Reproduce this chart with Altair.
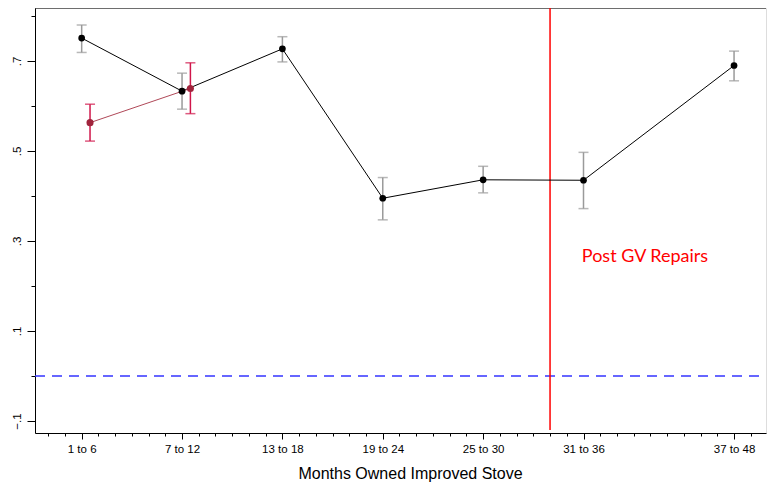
import altair as alt
import pandas as pd

# ---- data ----
labels = ["1 to 6", "7 to 12", "13 to 18", "19 to 24", "25 to 30", "31 to 36", "37 to 48"]
months_black = [3.5, 9.5, 15.5, 21.5, 27.5, 33.5, 42.5]
est_black = [0.751, 0.633, 0.727, 0.395, 0.436, 0.435, 0.690]
lo_black = [0.719, 0.593, 0.698, 0.347, 0.407, 0.372, 0.656]
hi_black = [0.780, 0.673, 0.754, 0.441, 0.466, 0.497, 0.722]

months_red = [4.0, 10.0]
est_red = [0.563, 0.639]
lo_red = [0.522, 0.583]
hi_red = [0.604, 0.696]

repair_month = 31.5
note_text = "Post GV Repairs"
note_month = 33.4
note_value = 0.264

xmin, xmax = 0.71, 44.41
ymin, ymax = -0.1267, 0.8178

black = pd.DataFrame({"m": months_black, "est": est_black, "lo": lo_black, "hi": hi_black})
red = pd.DataFrame({"m": months_red, "est": est_red, "lo": lo_red, "hi": hi_red})

W, H = 731, 425

major_x = months_black
x_ticks = [m + 0.5 for m in range(1, 44)]
label_expr = "".join(f"datum.value == {m} ? '{l}' : " for m, l in zip(months_black, labels)) + "''"
major_x_test = " || ".join(f"datum.value == {m}" for m in major_x)

y_ticks = [-0.1, 0, 0.1, 0.2, 0.3, 0.4, 0.5, 0.6, 0.7, 0.8]
y_major = [-0.1, 0.1, 0.3, 0.5, 0.7]
major_y_test = " || ".join(f"datum.value == {v}" for v in y_major)

xscale = alt.Scale(domain=[xmin, xmax], nice=False, zero=False)
yscale = alt.Scale(domain=[ymin, ymax], nice=False, zero=False)

xaxis = alt.Axis(
    values=x_ticks,
    tickCount=200,
    labelExpr=label_expr,
    tickSize={"condition": {"test": major_x_test, "value": 6}, "value": 3},
    tickColor="black",
    domainColor="black",
    labelFont="Liberation Sans",
    labelFontSize=11.5,
    labelColor="black",
    labelPadding=4,
    labelFlush=False,
    labelOverlap=False,
    grid=False,
    title="Months Owned Improved Stove",
    titleFont="Liberation Sans",
    titleFontSize=16,
    titleFontWeight="normal",
    titleColor="black",
    titlePadding=11,
    titleX=375,
    titleAlign="center",
)
yaxis = alt.Axis(
    values=y_ticks,
    tickCount=200,
    labelExpr=f"({major_y_test}) ? replace(format(datum.value, '.1f'), '0.', '.') : ''",
    tickSize={"condition": {"test": major_y_test, "value": 8}, "value": 4},
    tickColor="black",
    domainColor="black",
    labelFont="Liberation Sans",
    labelFontSize=11.5,
    labelColor="black",
    labelAngle=270,
    labelPadding=5,
    labelFlush=False,
    labelOverlap=False,
    grid=False,
    title=None,
)

X = alt.X("m:Q", scale=xscale, axis=xaxis)
Y = alt.Y("est:Q", scale=yscale, axis=yaxis)

base_b = alt.Chart(black)
base_r = alt.Chart(red)

zero_line = alt.Chart().mark_rule(color="#3434ff", strokeWidth=1.3, strokeDash=[10, 7]).encode(
    y=alt.datum(0, scale=yscale), x=alt.datum(xmin, scale=xscale), x2=alt.datum(xmax)
)
top_line = alt.Chart().mark_rule(color="black", strokeWidth=1).encode(
    y=alt.datum(ymax, scale=yscale), x=alt.datum(xmin, scale=xscale), x2=alt.datum(xmax)
)
repair_line = alt.Chart().mark_rule(color="#ff0000", strokeWidth=1.5).encode(
    x=alt.datum(repair_month, scale=xscale), y=alt.datum(ymax, scale=yscale), y2=alt.datum(-0.12)
)
note = alt.Chart().mark_text(
    text=note_text, color="#ff0000", font="Lato", fontSize=18, align="left", baseline="middle"
).encode(x=alt.datum(note_month, scale=xscale), y=alt.datum(note_value, scale=yscale))

line_b = base_b.mark_line(color="black", strokeWidth=1).encode(x=X, y=Y)
err_b = base_b.mark_rule(color="#9a9a9a", strokeWidth=1.5).encode(x=X, y=alt.Y("lo:Q", scale=yscale), y2="hi:Q")
cap_lo_b = base_b.mark_tick(color="#9a9a9a", orient="horizontal", size=10, thickness=1.5).encode(x=X, y=alt.Y("lo:Q", scale=yscale))
cap_hi_b = base_b.mark_tick(color="#9a9a9a", orient="horizontal", size=10, thickness=1.5).encode(x=X, y=alt.Y("hi:Q", scale=yscale))
pts_b = base_b.mark_point(filled=True, color="black", size=45, opacity=1).encode(x=X, y=Y)

line_r = base_r.mark_line(color="#b04858", strokeWidth=1).encode(x=X, y=Y)
err_r = base_r.mark_rule(color="#d0164a", strokeWidth=1.5).encode(x=X, y=alt.Y("lo:Q", scale=yscale), y2="hi:Q")
cap_lo_r = base_r.mark_tick(color="#d0164a", orient="horizontal", size=10, thickness=1.5).encode(x=X, y=alt.Y("lo:Q", scale=yscale))
cap_hi_r = base_r.mark_tick(color="#d0164a", orient="horizontal", size=10, thickness=1.5).encode(x=X, y=alt.Y("hi:Q", scale=yscale))
pts_r = base_r.mark_point(filled=True, color="#a0243c", size=50, opacity=1).encode(x=X, y=Y)

chart = alt.layer(
    zero_line, top_line, repair_line, note,
    line_b, err_b, cap_lo_b, cap_hi_b,
    line_r, err_r, cap_lo_r, cap_hi_r,
    pts_b, pts_r,
).properties(
    width=W, height=H,
    autosize=alt.AutoSizeParams(type="none"),
    padding={"left": 27, "top": 0, "right": 2, "bottom": 55},
).configure_view(stroke=None).configure(background="white")

chart.save("out.html", embed_options={"renderer": "svg", "actions": False})
